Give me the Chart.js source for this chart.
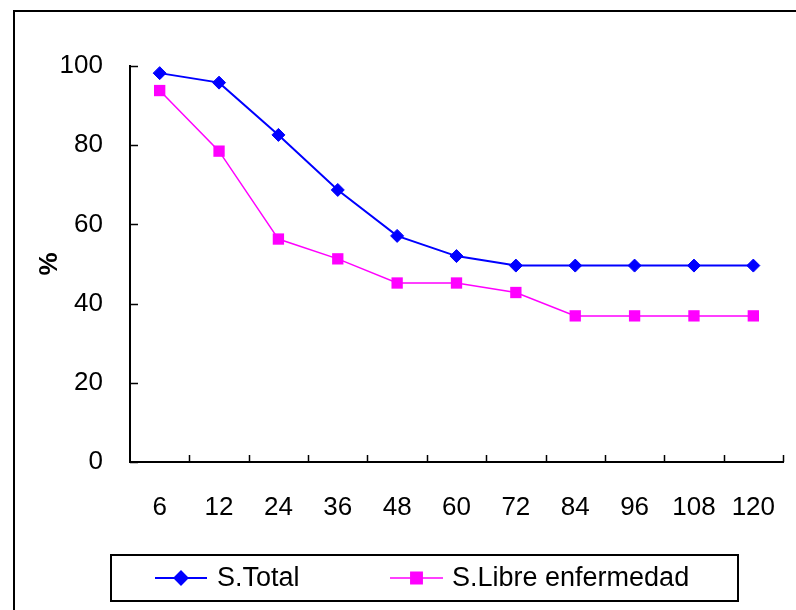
<!DOCTYPE html>
<html>
<head>
<meta charset="utf-8">
<script src="https://cdn.jsdelivr.net/npm/chart.js@4/dist/chart.umd.min.js"></script>
<style>
  html, body { margin: 0; padding: 0; background: #fff; }
  canvas { display: block; }
</style>
</head>
<body>
<canvas id="c" width="796" height="610"></canvas>
<script>
// Follow-up time in months
const months = ['6', '12', '24', '36', '48', '60', '72', '84', '96', '108', '120'];
// Overall survival (%)
const survTotal = [98.2, 95.8, 82.6, 68.7, 57.1, 52.0, 49.6, 49.6, 49.6, 49.6, 49.6];
// Disease-free survival (%)
const survLibre = [93.8, 78.5, 56.3, 51.3, 45.2, 45.2, 42.8, 36.9, 36.9, 36.9, 36.9];
const seriesNames = ['S.Total', 'S.Libre enfermedad'];
const yTicks = [0, 20, 40, 60, 80, 100];

const FONT = 'Liberation Sans, Arial, sans-serif';

// Frame, inside tick marks and boxed legend
const decorations = {
  id: 'decorations',
  afterDraw(chart) {
    const ctx = chart.ctx;
    const xs = chart.scales.x;
    const ys = chart.scales.y;
    ctx.save();
    ctx.strokeStyle = '#000';

    // outer frame (top and left edges)
    ctx.lineWidth = 2;
    ctx.beginPath();
    ctx.moveTo(14, 610);
    ctx.lineTo(14, 11);
    ctx.lineTo(796, 11);
    ctx.stroke();

    // y ticks pointing into the plot
    ctx.lineWidth = 1.5;
    ctx.beginPath();
    yTicks.forEach(v => {
      const y = Math.round(ys.getPixelForValue(v)) + 0.5;
      ctx.moveTo(xs.left, y);
      ctx.lineTo(xs.left + 8, y);
    });
    // x ticks at category boundaries
    const n = months.length;
    for (let i = 1; i <= n; i++) {
      let x;
      if (i < n) {
        x = (xs.getPixelForValue(i - 1) + xs.getPixelForValue(i)) / 2;
      } else {
        x = xs.right;
      }
      x = Math.round(x) + 0.5;
      ctx.moveTo(x, ys.bottom);
      ctx.lineTo(x, ys.bottom - 7);
    }
    ctx.stroke();

    // legend box
    ctx.lineWidth = 2;
    ctx.strokeRect(111, 555, 627, 46);

    const items = [
      { ds: chart.data.datasets[0], x0: 155, x1: 207, tx: 217 },
      { ds: chart.data.datasets[1], x0: 390, x1: 443, tx: 452 }
    ];
    const ly = 578;
    items.forEach(it => {
      ctx.strokeStyle = it.ds.borderColor;
      ctx.lineWidth = it.ds.borderWidth;
      ctx.beginPath();
      ctx.moveTo(it.x0, ly);
      ctx.lineTo(it.x1, ly);
      ctx.stroke();
      Chart.helpers.drawPoint(ctx, {
        pointStyle: it.ds.pointStyle,
        radius: it.ds.pointRadius,
        borderWidth: 1,
        rotation: 0
      }, (it.x0 + it.x1) / 2, ly);
      ctx.fillStyle = it.ds.pointBackgroundColor;
      ctx.strokeStyle = it.ds.pointBorderColor;
      ctx.fill();
      ctx.fillStyle = '#000';
      ctx.font = '27px ' + FONT;
      ctx.textAlign = 'left';
      ctx.textBaseline = 'middle';
      ctx.fillText(it.ds.label, it.tx, ly + 1);
    });
    ctx.restore();
  }
};

new Chart(document.getElementById('c'), {
  type: 'line',
  data: {
    labels: months,
    datasets: [
      {
        label: seriesNames[0],
        data: survTotal,
        borderColor: '#0000ff',
        borderWidth: 2,
        pointStyle: 'rectRot',
        pointRadius: 6.5,
        pointBackgroundColor: '#0000ff',
        pointBorderColor: '#0000ff',
        pointBorderWidth: 1,
        tension: 0,
        fill: false
      },
      {
        label: seriesNames[1],
        data: survLibre,
        borderColor: '#ff00ff',
        borderWidth: 1.5,
        pointStyle: 'rect',
        pointRadius: 8,
        pointBackgroundColor: '#ff00ff',
        pointBorderColor: '#ff00ff',
        pointBorderWidth: 0,
        tension: 0,
        fill: false
      }
    ]
  },
  options: {
    responsive: false,
    animation: false,
    layout: { padding: { left: 0, top: 66, right: 13, bottom: 0 } },
    plugins: {
      legend: { display: false },
      tooltip: { enabled: false }
    },
    scales: {
      x: {
        offset: true,
        grid: { display: false, drawTicks: false },
        border: { display: true, color: '#000', width: 2 },
        ticks: {
          color: '#000',
          padding: 30,
          maxRotation: 0,
          autoSkip: false,
          font: { family: FONT, size: 26 }
        },
        afterFit(axis) {
          axis.height = 148;
          axis.paddingLeft = 0;
          axis.paddingRight = 0;
        }
      },
      y: {
        min: 0,
        max: 100,
        grid: { display: false, drawTicks: false },
        border: { display: true, color: '#000', width: 2 },
        ticks: {
          stepSize: 20,
          color: '#000',
          padding: 27,
          font: { family: FONT, size: 26 }
        },
        title: {
          display: true,
          text: '%',
          color: '#000',
          font: { family: FONT, size: 26, weight: 'bold' },
          padding: { top: 34, bottom: 0 }
        },
        afterFit(axis) { axis.width = 130; }
      }
    }
  },
  plugins: [decorations]
});
</script>
</body>
</html>
